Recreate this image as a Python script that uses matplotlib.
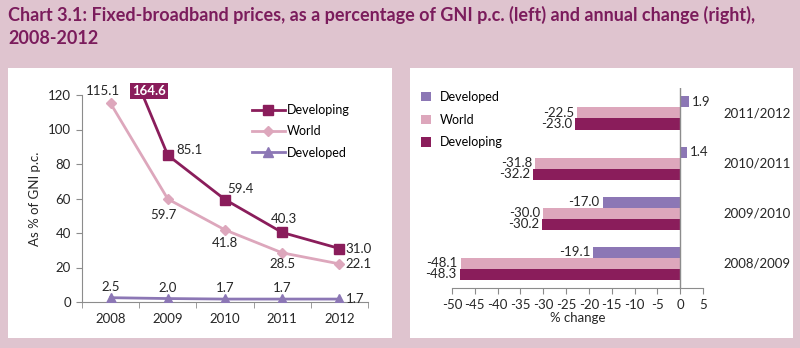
import numpy as np
import matplotlib.pyplot as plt
from matplotlib.patches import Rectangle

plt.rcParams['font.family'] = ['Lato', 'DejaVu Sans']
plt.rcParams['axes.unicode_minus'] = False

# left chart: prices as % of GNI p.c.
years = ["2008", "2009", "2010", "2011", "2012"]
developing = [164.6, 85.1, 59.4, 40.3, 31.0]
world = [115.1, 59.7, 41.8, 28.5, 22.1]
developed = [2.5, 2.0, 1.7, 1.7, 1.7]

# right chart: annual change
periods = ["2008/2009", "2009/2010", "2010/2011", "2011/2012"]
chg_developed = [-19.1, -17.0, 1.4, 1.9]
chg_world = [-48.1, -30.0, -31.8, -22.5]
chg_developing = [-48.3, -30.2, -32.2, -23.0]

BG = "#DFC4CF"
C_DEVING = "#8A1D5B"
C_WORLD = "#DDA7BC"
C_DEVED = "#8C77B5"
AXC = "#8C8C8C"
TXT = "#262626"
FS = 9.5

fig = plt.figure(figsize=(8, 3.48), dpi=100, facecolor=BG)

fig.text(8 / 800, 1 - 6 / 348,
         "Chart 3.1: Fixed-broadband prices, as a percentage of GNI p.c. (left) and annual change (right),\n2008-2012",
         ha="left", va="top", fontsize=13, fontweight="bold", color="#7B1C5C", linespacing=1.4)

# white panels
fig.patches.append(Rectangle((8 / 800, 10 / 348), 384 / 800, 270 / 348,
                             transform=fig.transFigure, facecolor="white", edgecolor="none", zorder=-10))
fig.patches.append(Rectangle((410 / 800, 10 / 348), 383 / 800, 270 / 348,
                             transform=fig.transFigure, facecolor="white", edgecolor="none", zorder=-10))

# ---- left chart ----
ax = fig.add_axes([82 / 800, 1 - 302 / 348, 286 / 800, 207 / 348])
ax.set_facecolor("none")
x = np.arange(len(years))
ax.plot(x, developing, color=C_DEVING, lw=2, marker="s", ms=7, label="Developing", zorder=4)
ax.plot(x, world, color=C_WORLD, lw=2, marker="D", ms=5.5, label="World", zorder=3)
ax.plot(x, developed, color=C_DEVED, lw=2, marker="^", ms=7, label="Developed", zorder=3)
ax.set_xlim(-0.5, 4.5)
ax.set_ylim(0, 120)
ax.set_yticks(np.arange(0, 121, 20))
ax.set_xticks(x)
ax.set_xticklabels(years)
ax.set_xticks(np.arange(-0.5, 5, 1), minor=True)
ax.tick_params(axis="x", which="major", length=0, pad=8)
ax.tick_params(axis="x", which="minor", length=4, color=AXC, direction="out")
ax.tick_params(axis="y", length=4, color=AXC, pad=4)
ax.tick_params(labelsize=FS, labelcolor=TXT)
for s in ["top", "right"]:
    ax.spines[s].set_visible(False)
for s in ["left", "bottom"]:
    ax.spines[s].set_color(AXC)
ax.set_ylabel("As % of GNI p.c.", fontsize=FS, color=TXT, labelpad=5)

# data labels (offsets in pixels)
dev_off = [None, (22, 5), (15, 11), (2, 13), (6, 0)]
wld_off = [(-8, 12), (-4, -16), (0, -13), (0, -11), (6, 0)]
dvd_off = [(0, 11), (0, 11), (0, 11), (0, 11), (6, 0)]
for i in range(len(years)):
    for vals, offs in ((developing, dev_off), (world, wld_off), (developed, dvd_off)):
        if offs[i] is None:
            continue
        dx, dy = offs[i]
        ha = "left" if i == 4 else "center"
        ax.annotate(f"{vals[i]:.1f}", (x[i], vals[i]), xytext=(dx, dy), textcoords="offset pixels",
                    ha=ha, va="center", fontsize=FS, color=TXT)
# first developing value is off the scale
ax.annotate(f"{developing[0]:.1f}", (0.5, 120), xytext=(10, 4), textcoords="offset pixels",
            ha="center", va="center", fontsize=FS, fontweight="bold", color="white",
            bbox=dict(boxstyle="square,pad=0.15", fc=C_DEVING, ec="none"), annotation_clip=False)

ax.legend(loc="upper left", bbox_to_anchor=(252 / 800, 1 - 104 / 348), bbox_transform=fig.transFigure,
          frameon=False, fontsize=9, handlelength=2.6, handletextpad=0.2, labelspacing=0.75,
          borderpad=0, borderaxespad=0)

# ---- right chart ----
ax2 = fig.add_axes([452 / 800, 1 - 288 / 348, 251 / 800, 200 / 348])
ax2.set_facecolor("none")
y = np.arange(len(periods))
h = 0.22
ax2.barh(y + h, chg_developed, height=h, color=C_DEVED, label="Developed")
ax2.barh(y, chg_world, height=h, color=C_WORLD, label="World")
ax2.barh(y - h, chg_developing, height=h, color=C_DEVING, label="Developing")
ax2.set_xlim(-50, 5)
ax2.set_ylim(-0.5, 3.5)
ax2.set_xticks(np.arange(-50, 6, 5))
ax2.set_yticks(y)
ax2.set_yticklabels(periods)
ax2.yaxis.tick_right()
ax2.tick_params(axis="y", length=0, pad=15)
ax2.tick_params(axis="x", length=4, color=AXC, pad=4)
ax2.tick_params(labelsize=FS, labelcolor=TXT)
for s in ["top", "right", "left"]:
    ax2.spines[s].set_visible(False)
ax2.spines["bottom"].set_color(AXC)
ax2.axvline(0, color=AXC, lw=1)
ax2.set_xlabel("% change", fontsize=FS, color=TXT, labelpad=1)

for off, vals in ((h, chg_developed), (0, chg_world), (-h, chg_developing)):
    for yi, v in zip(y, vals):
        if v < 0:
            ax2.annotate(f"{v:.1f}", (v, yi + off), xytext=(-3, 0), textcoords="offset pixels",
                         ha="right", va="center", fontsize=FS, color=TXT)
        else:
            ax2.annotate(f"{v:.1f}", (v, yi + off), xytext=(3, 0), textcoords="offset pixels",
                         ha="left", va="center", fontsize=FS, color=TXT)

ax2.legend(loc="upper left", bbox_to_anchor=(421 / 800, 1 - 91 / 348), bbox_transform=fig.transFigure,
           frameon=False, fontsize=9, handlelength=0.8, handleheight=0.8, handletextpad=0.7,
           labelspacing=0.85, borderpad=0, borderaxespad=0)

fig.savefig("out.png", dpi=100, facecolor=BG)
